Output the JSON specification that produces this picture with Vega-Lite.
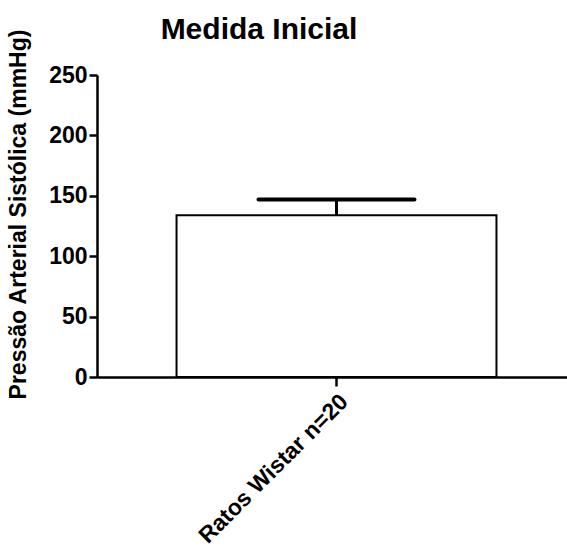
{
  "$schema": "https://vega.github.io/schema/vega-lite/v6.json",
  "autosize": "none",
  "padding": {"left": 97, "top": 75, "right": 0, "bottom": 170},
  "width": 470,
  "height": 302,
  "background": "white",
  "config": {
    "view": {"stroke": null},
    "font": "Liberation Sans"
  },
  "title": {
    "text": "Medida Inicial",
    "font": "Liberation Sans",
    "fontSize": 30,
    "fontWeight": "bold",
    "color": "black",
    "anchor": "start",
    "dx": 153,
    "baseline": "alphabetic",
    "offset": -40
  },
  "data": {
    "values": [
      {"grupo": "Ratos Wistar n=20", "media": 134, "superior": 147}
    ]
  },
  "encoding": {
    "x": {
      "field": "grupo",
      "type": "nominal",
      "scale": {"paddingInner": 0.19, "paddingOuter": 0.19, "align": 0.53},
      "axis": {
        "title": null,
        "labelAngle": -45,
        "labelLimit": 0,
        "labelFont": "Liberation Sans",
        "labelFontSize": 23,
        "labelFontWeight": "bold",
        "labelColor": "black",
        "domainColor": "black",
        "domainWidth": 2.5,
        "tickColor": "black",
        "tickWidth": 2.5,
        "tickSize": 9,
        "labelPadding": 4
      }
    }
  },
  "layer": [
    {
      "mark": {"type": "bar", "fill": "white", "stroke": "black", "strokeWidth": 2},
      "encoding": {
        "y": {
          "field": "media",
          "type": "quantitative",
          "scale": {"domain": [0, 250], "nice": false},
          "axis": {
            "title": "Pressão Arterial Sistólica (mmHg)",
            "titleFont": "Liberation Sans",
            "titleFontSize": 23,
            "titleFontWeight": "bold",
            "titleColor": "black",
            "titlePadding": 18,
            "titleY": 139,
            "values": [0, 50, 100, 150, 200, 250],
            "grid": false,
            "labelFont": "Liberation Sans",
            "labelFontSize": 23,
            "labelFontWeight": "bold",
            "labelColor": "black",
            "labelPadding": 2,
            "domainColor": "black",
            "domainWidth": 2.5,
            "tickColor": "black",
            "tickWidth": 2.5,
            "tickSize": 8
          }
        }
      }
    },
    {
      "mark": {"type": "rule", "color": "black", "strokeWidth": 3, "opacity": 1},
      "encoding": {
        "y": {"field": "media", "type": "quantitative"},
        "y2": {"field": "superior"}
      }
    },
    {
      "mark": {"type": "tick", "color": "black", "opacity": 1, "thickness": 4, "size": 160, "cornerRadius": 2},
      "encoding": {
        "y": {"field": "superior", "type": "quantitative"}
      }
    }
  ]
}
